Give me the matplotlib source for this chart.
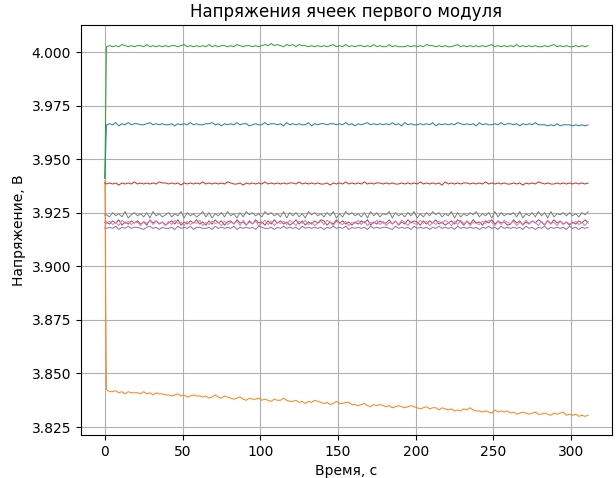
import numpy as np
import matplotlib
matplotlib.use('Agg')
import matplotlib.pyplot as plt

# напряжения ячеек, записаны кодами: V = base + 0.0005 * int(ch, 36), шаг по времени 2 с
step = 0.0005
cells = ['C0', 'C1', 'C2', 'C3', 'C4', 'C5', 'C6', 'C7']
start = [3.941, 3.940, 3.941, 3.939, 3.918, 3.9205, 3.9205, 3.924]   # значение при t=0
base = [3.9641, 3.829, 4.00055, 3.93645, 3.91575, 3.91825, 3.91805, 3.9216]

blue = ("4546354645 5445645454 4535454645 4455645354 5464553454 4645545364 5454463545 5455454645 "
        "3545645454 5464536454 4545463545 4546545453 6454454645 5453545464 4434353444 343434")
orange = ("rppqopnpoo onpnomonnm mlmnlmklml lkljkmkjlk jijkihjiij hihgihhjhg ghfgegfhgf efdegeeffd "
          "dcdecbdcdc bcabcbabcb a9ab9aa8a9 8978798a87 7676586767 5645654564 4543545634 342323")
green = ("4545465454 5546454545 4554564545 4546454554 5465455454 5657565465 6465545454 5456454645 "
         "4554546454 4645444545 4546554545 4456454545 4545645454 5464545454 4545645454 454545")
red = ("4545354546 4545454655 4545354545 4645454546 5445354545 4645454545 5464545454 4535454645 "
       "4546454554 5454454545 4645454536 4545455454 5464545454 4545354546 5454454545 454545")
purple = ("4546354645 5435645354 4536454635 5445364545 4635454536 5445354645 4536454545 3546454635 "
          "4545364545 5436454536 4545354645 4536454545 3546453645 4545364535 4635454536 453545")
brown = ("5364725364 6352746352 4637253647 3526374625 6374526374 5263746352 4736253647 6253746352 "
         "5364725364 4736253746 5263647352 4637526374 5264736452 3746253647 5263746352 536474")
pink = ("4635274635 5264736452 6374526354 7253645263 5462735462 4736254637 5264735246 3752643625 "
        "4736254736 2546375264 3746253647 5263746254 3647526375 4625374652 6374526354 463526")
gray = ("5374638257 4637284635 7364827463 5837264738 4627385746 3857463827 4736285746 3748263857 "
        "4637284736 5827463748 2637485736 4827364758 3647283746 5738264738 4728365747 463758")
codes = [blue, orange, green, red, purple, brown, pink, gray]


def decode(s, b, v0):
    s = s.replace(' ', '')
    v = [v0] + [b + step * int(ch, 36) for ch in s]
    t = [0] + list(1 + 2 * np.arange(len(s)))
    return np.array(t), np.array(v)


fig = plt.figure(figsize=(6.16, 4.78), dpi=100)
ax = fig.add_subplot(111)
for c, s, b, v0 in zip(cells, codes, base, start):
    t, v = decode(s, b, v0)
    ax.plot(t, v, color=c, lw=0.7)

ax.set_title('Напряжения ячеек первого модуля')
ax.set_xlabel('Время, с')
ax.set_ylabel('Напряжение, В')
ax.grid(True)
fig.subplots_adjust(left=0.131, right=0.994, top=0.948, bottom=0.09)
fig.savefig('out.png')
